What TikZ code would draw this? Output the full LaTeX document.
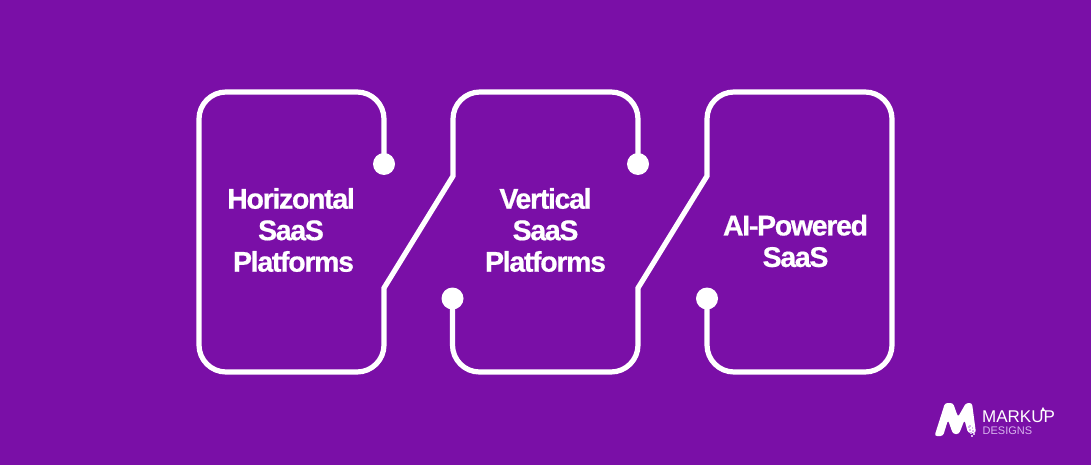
\documentclass[tikz,border=0pt]{standalone}
\usepackage{fontspec}
\setmainfont{Liberation Sans}
\newfontfamily\headfont[LetterSpace=-4.6,FakeBold=0.6]{Liberation Sans Bold}
\newfontfamily\logofont{Liberation Sans}
\definecolor{bgpurple}{HTML}{7A0FA7}
\definecolor{lilac}{HTML}{D8B4EE}
\tikzset{
  outline/.style={draw=white,line width=5.2pt,line join=miter},
  dotmark/.style={circle,fill=white,draw=none,minimum size=22pt,inner sep=0pt},
  label/.style={align=center,text=white,font=\fontsize{28.5}{31.5}\selectfont\headfont,inner sep=0pt},
  pixel/.style={fill=lilac,draw=none}
}
\begin{document}
\begin{tikzpicture}[x=1pt,y=-1pt]
\useasboundingbox (0,0) rectangle (1091,465);
\fill[bgpurple] (0,0) rectangle (1091,465);
% terminal dots
\node[dotmark] (d1) at (384,164) {};
\node[dotmark] (d2) at (638,164) {};
\node[dotmark] (d3) at (452.5,298.5) {};
\node[dotmark] (d4) at (707,298.5) {};
% connectors
\draw[outline] (d1.center) [rounded corners=27pt] -- (384,92) -- (199,92) -- (199,372) -- (384,372) [sharp corners] -- (384,288) -- (453,176) [rounded corners=27pt] -- (453,92) -- (638,92) -- (d2.center);
\draw[outline] (d3.center) [rounded corners=27pt] -- (452.5,372) -- (638,372) [sharp corners] -- (638,288) -- (707,176) [rounded corners=27pt] -- (707,92) -- (892,92) -- (892,372) -- (707,372) -- (d4.center);
% labels
\node[label] (t1) at (291,230) {Horizontal\\SaaS\\\hspace*{5pt}Platforms};
\node[label] (t2) at (545.5,230) {Vertical\\SaaS\\Platforms};
\node[label] (t3) at (795.5,241) {AI-Powered\\SaaS};
% logo
\fill[white,rounded corners=2.5pt] (934.5,436) -- (945,403) -- (953,403) -- (958,417) -- (966,403) -- (972,403) -- (976,433) -- (968,433) -- (964.5,420) -- (959,434) -- (953,434) -- (948,420) -- (943,436) -- cycle;
\foreach \x/\y in {969/425,971.5/427,969/429,972/430,970/432,973/433,971/435,968/426}
  \fill[pixel] (\x,\y) rectangle +(1.8,1.8);
\node[anchor=base west,inner sep=0pt,text=white,font=\fontsize{17}{17}\selectfont\logofont] (mk) at (982,422) {MARKUP};
\node[anchor=base west,inner sep=0pt,text=lilac,font=\fontsize{11}{11}\selectfont\logofont] (ds) at (982.5,434.5) {DESIGNS};
\fill[white] (1040.8,411) -- (1043,407) -- (1045.2,411) -- cycle;
\end{tikzpicture}
\end{document}
